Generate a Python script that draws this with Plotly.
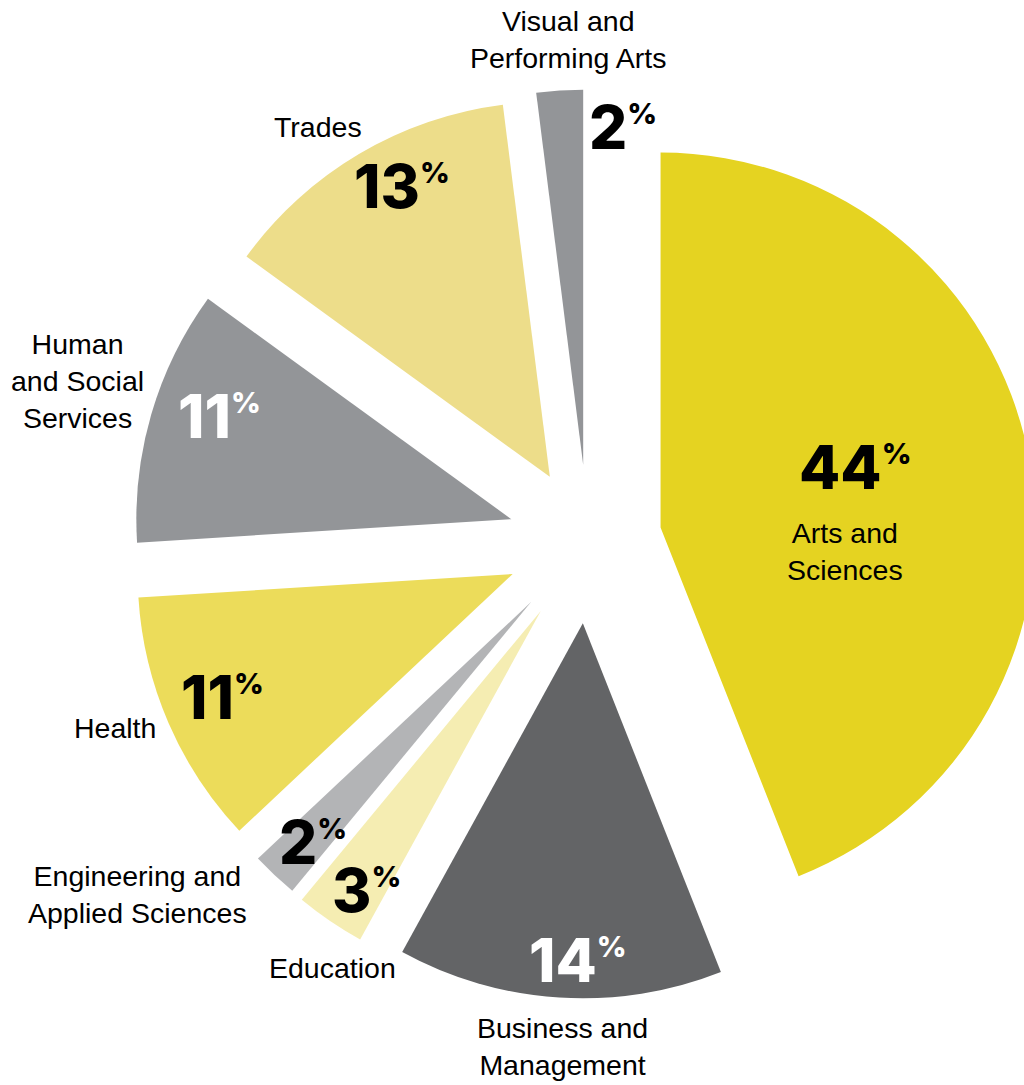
import plotly.graph_objects as go

# Share of students by program area (percent), clockwise from 12 o'clock
categories = ["Arts and Sciences", "Business and Management", "Education",
              "Engineering and Applied Sciences", "Health",
              "Human and Social Services", "Trades", "Visual and Performing Arts"]
label_lines = ["Arts and<br>Sciences", "Business and<br>Management", "Education",
               "Engineering and<br>Applied Sciences", "Health",
               "Human<br>and Social<br>Services", "Trades",
               "Visual and<br>Performing Arts"]
shares = [44, 14, 3, 2, 11, 11, 13, 2]

slice_colors = ["#E5D321", "#636466", "#F5EDB2", "#B3B4B6",
                "#ECDC5A", "#939598", "#EDDD8A", "#939598"]
value_colors = ["black", "white", "black", "black", "black", "white", "black", "black"]
pulls = [0.197, 0.219, 0.224, 0.221, 0.219, 0.213, 0.200, 0.205]

W, H = 1050, 1085

# label anchor points in page pixels (value label, category label)
value_pos = [(855, 467), (578, 960), (366, 890), (313, 842), (222, 697),
             (219, 416), (402, 186), (623, 127)]
name_pos = [(845, 551), (562, 1046), (333, 968), (137, 894), (115, 728),
            (77, 381), (318, 127), (568, 40)]


def px(x, y):
    return x / W, 1 - y / H


fig = go.Figure(go.Pie(
    labels=categories,
    values=shares,
    sort=False,
    direction="clockwise",
    rotation=0,
    pull=pulls,
    marker=dict(colors=slice_colors, line=dict(width=0)),
    textinfo="none",
    hoverinfo="skip",
    showlegend=False,
    domain=dict(x=[0.12, 1.0], y=[0.0780, 0.9240]),
))

annotations = []
for v, c, (x, y) in zip(shares, value_colors, value_pos):
    ax, ay = px(x, y)
    annotations.append(dict(
        x=ax, y=ay, xref="paper", yref="paper", showarrow=False,
        xanchor="center", yanchor="middle",
        text=f"{v}<sup><span style='font-size:29px'>%</span></sup>",
        font=dict(family="Inter", size=60, color=c, weight=800),
    ))
for t, (x, y) in zip(label_lines, name_pos):
    ax, ay = px(x, y)
    annotations.append(dict(
        x=ax, y=ay, xref="paper", yref="paper", showarrow=False,
        xanchor="center", yanchor="middle", align="center",
        text=t,
        font=dict(family="Liberation Sans, Arial, sans-serif", size=28.5, color="black"),
    ))

fig.update_layout(
    width=W, height=H,
    margin=dict(l=0, r=0, t=0, b=0),
    paper_bgcolor="white",
    plot_bgcolor="white",
    annotations=annotations,
)

fig.write_html("out.html")
